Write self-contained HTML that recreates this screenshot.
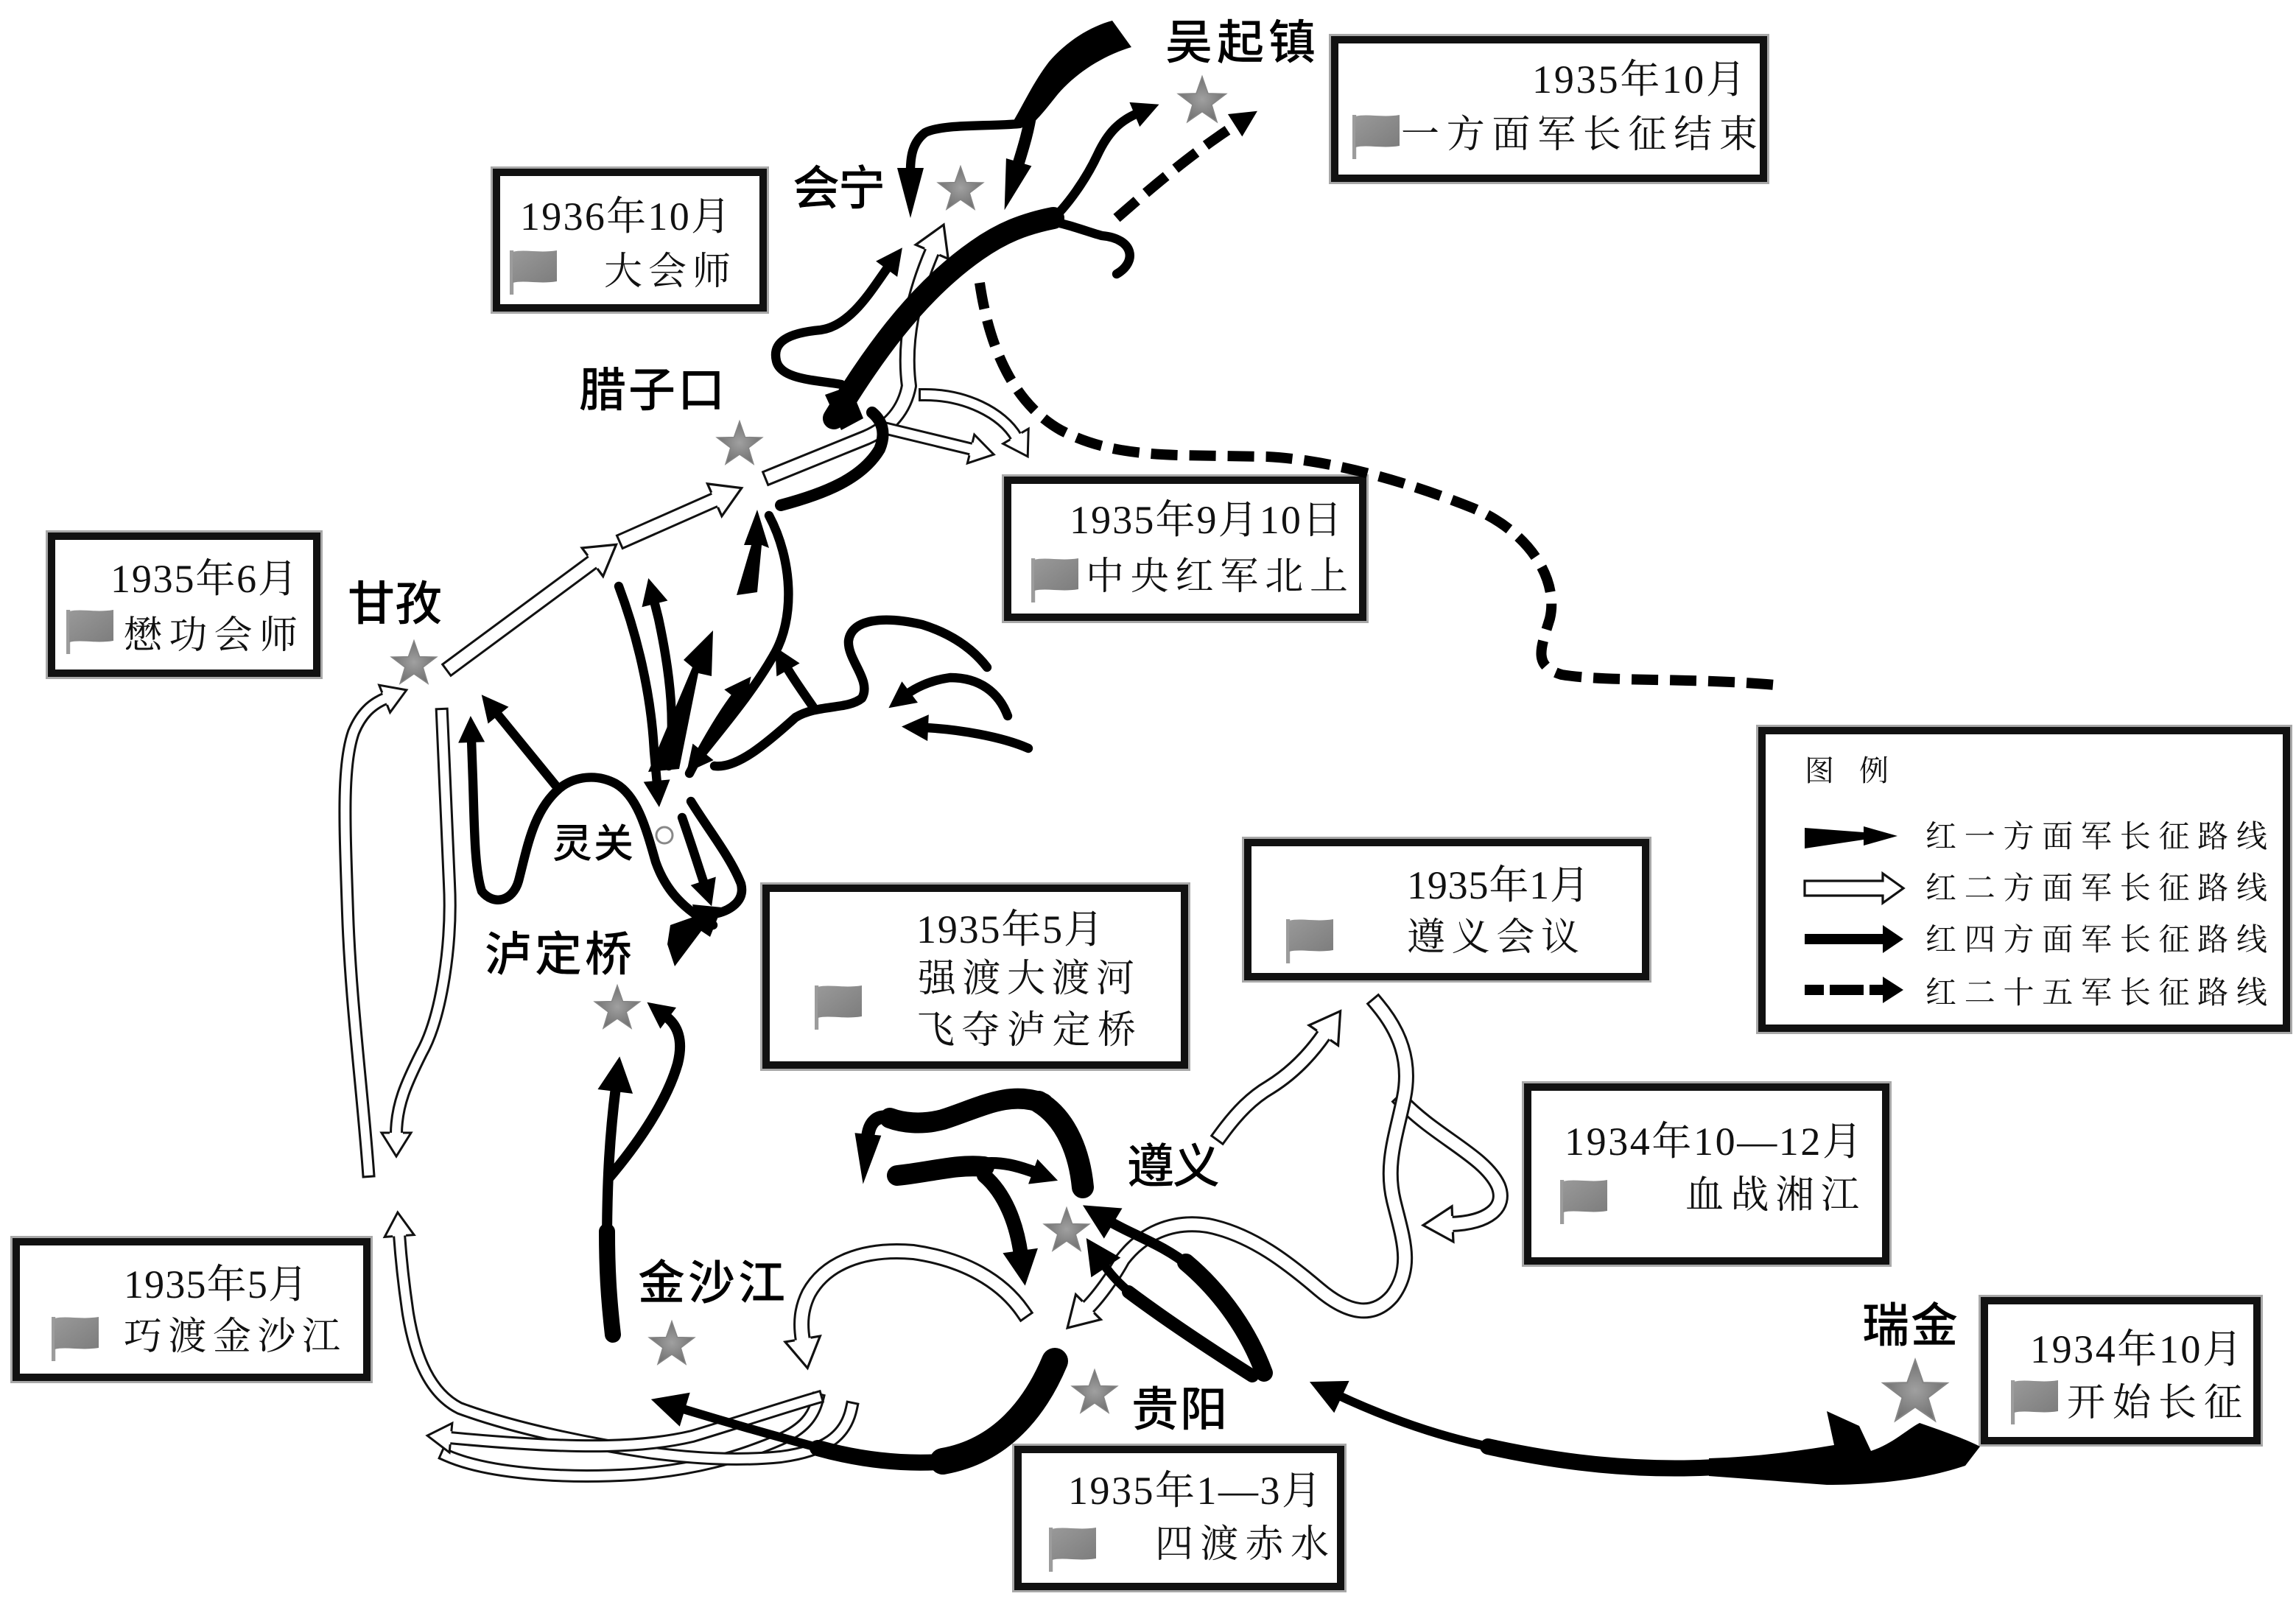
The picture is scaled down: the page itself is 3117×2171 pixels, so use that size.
<!DOCTYPE html>
<html>
<head>
<meta charset="utf-8">
<style>
html,body{margin:0;padding:0;background:#fff;}
svg{display:block;}
.bx{fill:#fff;stroke:#111;stroke-width:5}
.bxs{fill:none;stroke:#a8a8a8;stroke-width:8}
.tx{font-family:"Liberation Serif","Noto Serif CJK SC",serif;font-size:26px;fill:#111}
.num{font-size:27px;font-family:"Liberation Serif","Noto Serif CJK SC",serif}
.lg{font-family:"Liberation Serif","Noto Serif CJK SC",serif;font-size:21px;fill:#111}
.lb{font-family:"Liberation Sans","Noto Sans CJK SC",sans-serif;font-size:32px;font-weight:500;fill:#000}
.wo{fill:none;stroke:#111;stroke-width:11;stroke-linecap:square;stroke-linejoin:round}
.wi{fill:none;stroke:#fff;stroke-width:8;stroke-linecap:square;stroke-linejoin:round}
.wo2{fill:none;stroke:#111;stroke-width:9;stroke-linecap:square;stroke-linejoin:round}
.wi2{fill:none;stroke:#fff;stroke-width:6;stroke-linecap:square;stroke-linejoin:round}
.k{fill:none;stroke:#000;stroke-width:6.2;stroke-linecap:round;stroke-linejoin:round}
.t{fill:none;stroke:#000;stroke-linecap:round;stroke-linejoin:round}
.d{fill:none;stroke:#000;stroke-width:7;stroke-dasharray:18 8}
</style>
</head>
<body>
<svg xmlns="http://www.w3.org/2000/svg" width="3117" height="2171" viewBox="0 0 1558.5 1085.5" preserveAspectRatio="none">
<defs>
  <radialGradient id="sg">
    <stop offset="0" stop-color="#a0a0a0"/>
    <stop offset="1" stop-color="#727272"/>
  </radialGradient>
  <linearGradient id="fg" x1="0" y1="0" x2="1" y2="1">
    <stop offset="0" stop-color="#999"/>
    <stop offset="1" stop-color="#7d7d7d"/>
  </linearGradient>
  <path id="star" d="M0,-16 L3.76,-5.18 L15.22,-4.94 L6.08,1.98 L9.41,12.94 L0,6.4 L-9.41,12.94 L-6.08,1.98 L-15.22,-4.94 L-3.76,-5.18 Z" fill="url(#sg)" stroke="#858585" stroke-width="0.8"/>
  <g id="flag">
    <rect x="0" y="0" width="2.6" height="30" fill="#9c9c9c"/>
    <path d="M2,1 C10,-1 20,2 32,0 L32,21 C20,23 10,20 2,22 Z" fill="url(#fg)"/>
  </g>
  <marker id="mk" markerUnits="userSpaceOnUse" viewBox="0 -9 18 18" refX="2" refY="0" markerWidth="18" markerHeight="18" orient="auto" overflow="visible">
    <path d="M0,-9 L18,0 L0,9 Z" fill="#000"/>
  </marker>
  <marker id="mt" markerUnits="userSpaceOnUse" viewBox="0 -12 24 24" refX="3" refY="0" markerWidth="24" markerHeight="24" orient="auto" overflow="visible">
    <path d="M0,-12 L24,0 L0,12 Z" fill="#000"/>
  </marker>
  <marker id="mk2" markerUnits="userSpaceOnUse" viewBox="0 -9 34 18" refX="2" refY="0" markerWidth="34" markerHeight="18" orient="auto" overflow="visible">
    <path d="M0,-9 L34,0 L0,9 Z" fill="#000"/>
  </marker>
  <marker id="mw" markerUnits="userSpaceOnUse" viewBox="0 -12 20 24" refX="1" refY="0" markerWidth="20" markerHeight="24" orient="auto" overflow="visible">
    <path d="M0,-12 L20,0 L0,12 Z" fill="#fff"/>
    <path d="M0,-5.5 L0,-12 L20,0 L0,12 L0,5.5" fill="none" stroke="#111" stroke-width="1.6" stroke-linejoin="miter"/>
  </marker>
  <marker id="mw2" markerUnits="userSpaceOnUse" viewBox="0 -10 16 20" refX="1" refY="0" markerWidth="16" markerHeight="20" orient="auto" overflow="visible">
    <path d="M0,-10 L16,0 L0,10 Z" fill="#fff"/>
    <path d="M0,-4.5 L0,-10 L16,0 L0,10 L0,4.5" fill="none" stroke="#111" stroke-width="1.5" stroke-linejoin="miter"/>
  </marker>
</defs>

<!-- ================= BOXES ================= -->
<g>
  <rect class="bxs" x="906" y="27" width="291" height="94"/><rect class="bx" x="906" y="27" width="291" height="94"/>
  <rect class="bxs" x="337" y="117" width="181" height="92"/><rect class="bx" x="337" y="117" width="181" height="92"/>
  <rect class="bxs" x="35" y="364" width="180" height="93"/><rect class="bx" x="35" y="364" width="180" height="93"/>
  <rect class="bxs" x="684" y="326" width="241" height="93"/><rect class="bx" x="684" y="326" width="241" height="93"/>
  <rect class="bxs" x="520" y="603" width="284" height="120"/><rect class="bx" x="520" y="603" width="284" height="120"/>
  <rect class="bxs" x="847" y="572" width="270" height="91"/><rect class="bx" x="847" y="572" width="270" height="91"/>
  <rect class="bxs" x="1037" y="738" width="243" height="118"/><rect class="bx" x="1037" y="738" width="243" height="118"/>
  <rect class="bxs" x="1347" y="883" width="185" height="95"/><rect class="bx" x="1347" y="883" width="185" height="95"/>
  <rect class="bxs" x="691" y="984" width="219" height="93"/><rect class="bx" x="691" y="984" width="219" height="93"/>
  <rect class="bxs" x="11" y="843" width="238" height="92"/><rect class="bx" x="11" y="843" width="238" height="92"/>
  <rect class="bxs" x="1196" y="496" width="356" height="202"/><rect class="bx" x="1196" y="496" width="356" height="202"/>
</g>

<!-- box texts -->
<g class="tx">
  <text class="num" x="1040" y="63" textLength="145">1935年10月</text>
  <text x="951" y="100" textLength="242">一方面军长征结束</text>

  <text class="num" x="353" y="156" textLength="143">1936年10月</text>
  <text x="410" y="193" textLength="86">大会师</text>

  <text class="num" x="75" y="402" textLength="127">1935年6月</text>
  <text x="84" y="440" textLength="118">懋功会师</text>

  <text class="num" x="726" y="362" textLength="185">1935年9月10日</text>
  <text x="737" y="400" textLength="178">中央红军北上</text>

  <text class="num" x="622" y="640" textLength="127">1935年5月</text>
  <text x="623" y="673" textLength="147">强渡大渡河</text>
  <text x="622" y="708" textLength="149">飞夺泸定桥</text>

  <text class="num" x="955" y="610" textLength="124">1935年1月</text>
  <text x="955" y="645" textLength="117">遵义会议</text>

  <text class="num" x="1062" y="784" textLength="202">1934年10—12月</text>
  <text x="1144" y="820" textLength="118">血战湘江</text>

  <text class="num" x="1378" y="925" textLength="144">1934年10月</text>
  <text x="1403" y="961" textLength="119">开始长征</text>

  <text class="num" x="725" y="1021" textLength="172">1935年1—3月</text>
  <text x="784" y="1057" textLength="118">四渡赤水</text>

  <text class="num" x="84" y="881" textLength="125">1935年5月</text>
  <text x="84" y="916" textLength="147">巧渡金沙江</text>
</g>

<!-- flags -->
<use href="#flag" x="918" y="78"/>
<use href="#flag" x="346" y="170"/>
<use href="#flag" x="45" y="414"/>
<use href="#flag" x="700" y="379"/>
<use href="#flag" x="553" y="669"/>
<use href="#flag" x="873" y="624"/>
<use href="#flag" x="1059" y="801"/>
<use href="#flag" x="1365" y="937"/>
<use href="#flag" x="712" y="1037"/>
<use href="#flag" x="35" y="894"/>

<!-- legend -->
<g class="lg">
  <text x="1225" y="530" font-size="20">图</text>
  <text x="1262" y="530" font-size="20">例</text>
  <text x="1307" y="575" textLength="232">红一方面军长征路线</text>
  <text x="1307" y="610" textLength="232">红二方面军长征路线</text>
  <text x="1307" y="645" textLength="232">红四方面军长征路线</text>
  <text x="1307" y="681" textLength="232">红二十五军长征路线</text>
</g>
<path d="M1225,562 L1265,565 L1265,561 L1288,567.5 L1265,574 L1265,570 L1225,576 Z" fill="#000"/>
<path d="M1225,598 L1278,598 L1278,593 L1292,603 L1278,613 L1278,608 L1225,608 Z" fill="#fff" stroke="#111" stroke-width="1.6"/>
<path d="M1225,637.5 L1280,637.5" stroke="#000" stroke-width="7" fill="none"/>
<path d="M1278,628 L1292,637.5 L1278,647 Z" fill="#000"/>
<path d="M1225,672 L1238,672 M1242,672 L1265,672 M1269,672 L1280,672" stroke="#000" stroke-width="7" fill="none"/>
<path d="M1278,663 L1292,672 L1278,681 Z" fill="#000"/>

<!-- ================= WHITE ROUTES (红二) ================= -->
<path class="wo" d="M307,452 L403,381"/>
<path class="wi" d="M307,452 L403,381" marker-end="url(#mw)"/>
<path class="wo" d="M425,366 L486,339"/>
<path class="wi" d="M425,366 L486,339" marker-end="url(#mw)"/>
<path class="wo" d="M524,323 L588,297 C604,290 614,278 617,262 C613,232 620,200 633,170"/>
<path class="wi" d="M524,323 L588,297 C604,290 614,278 617,262 C613,232 620,200 633,170" marker-end="url(#mw)"/>
<path class="wo2" d="M628,268 C655,268 680,280 690,297"/>
<path class="wi2" d="M628,268 C655,268 680,280 690,297" marker-end="url(#mw2)"/>
<path class="wo2" d="M602,291 L660,305"/>
<path class="wi2" d="M602,291 L660,305" marker-end="url(#mw2)"/>
<path class="wo2" d="M250,795 C246,740 238,680 236,620 C234,560 232,520 240,497 C245,485 252,478 262,474"/>
<path class="wi2" d="M250,795 C246,740 238,680 236,620 C234,560 232,520 240,497 C245,485 252,478 262,474" marker-end="url(#mw2)"/>
<path class="wo2" d="M300,485 L305,600 C307,640 300,690 286,715 C276,735 269,750 269,770"/>
<path class="wi2" d="M300,485 L305,600 C307,640 300,690 286,715 C276,735 269,750 269,770" marker-end="url(#mw2)"/>
<path class="wo2" d="M303,988 C330,1000 380,1004 430,1001 C470,998 500,990 530,977 C545,970 552,962 555,950"/>
<path class="wi2" d="M303,988 C330,1000 380,1004 430,1001 C470,998 500,990 530,977 C545,970 552,962 555,950"/>
<path class="wo2" d="M578,956 C574,975 560,985 530,989 C500,992 470,990 440,986 C400,980 350,970 312,956 C292,946 282,922 277,892 C274,872 272,852 271,838"/>
<path class="wi2" d="M578,956 C574,975 560,985 530,989 C500,992 470,990 440,986 C400,980 350,970 312,956 C292,946 282,922 277,892 C274,872 272,852 271,838" marker-end="url(#mw2)"/>
<path class="wo2" d="M554,949 C530,956 500,966 470,975 C440,982 400,985 305,976"/>
<path class="wi2" d="M554,949 C530,956 500,966 470,975 C440,982 400,985 305,976" marker-end="url(#mw2)"/>
<path class="wo" d="M694,890 C680,870 655,855 620,850 C585,847 560,858 549,878 C544,888 543,898 545,910"/>
<path class="wi" d="M694,890 C680,870 655,855 620,850 C585,847 560,858 549,878 C544,888 543,898 545,910" marker-end="url(#mw)"/>
<path class="wo" d="M829,770 C840,755 850,745 862,738 C878,728 890,715 899,702"/>
<path class="wi" d="M829,770 C840,755 850,745 862,738 C878,728 890,715 899,702" marker-end="url(#mw)"/>
<path class="wo" d="M952,748 C975,772 1008,785 1017,805 C1023,820 1010,830 985,831"/>
<path class="wi" d="M952,748 C975,772 1008,785 1017,805 C1023,820 1010,830 985,831" marker-end="url(#mw)"/>
<path class="wo" d="M935,682 C950,700 958,720 953,745 C948,770 940,790 946,815 C952,840 960,860 945,880 C932,895 915,892 895,875 C875,858 850,838 820,832 C795,828 775,838 762,855 C756,866 746,880 738,888"/>
<path class="wi" d="M935,682 C950,700 958,720 953,745 C948,770 940,790 946,815 C952,840 960,860 945,880 C932,895 915,892 895,875 C875,858 850,838 820,832 C795,828 775,838 762,855 C756,866 746,880 738,888" marker-end="url(#mw)"/>

<!-- ================= DASHED (红二十五) ================= -->
<path class="d" d="M665,192 C672,240 690,275 720,292 C745,305 770,308 800,309 L860,310 C900,312 950,325 1000,345 C1040,362 1058,395 1052,420 C1046,440 1040,452 1060,458 C1090,463 1150,460 1205,465"/>
<path class="d" d="M758,148 C790,120 815,100 840,84" marker-end="url(#mk)"/>

<!-- ================= BLACK ROUTES ================= -->
<path d="M755,14 L768,32 C748,38 730,50 718,64 C710,74 704,82 696,88 L688,82 C695,70 702,55 712,42 C724,28 740,18 755,14 Z" fill="#000"/>
<path class="k" d="M692,84 C670,86 640,84 628,90 C620,96 618,105 618,116" marker-end="url(#mk2)"/>
<path class="t" stroke-width="8" d="M700,76 C698,90 694,102 691,112" marker-end="url(#mk2)"/>
<path class="k" d="M711,152 C725,140 738,120 745,105 C752,90 760,82 772,77" marker-end="url(#mk)"/>
<path class="k" d="M712,150 C725,152 740,158 748,160 C770,162 772,178 758,186"/>
<path class="k" d="M571,261 C555,258 530,258 527,245 C524,232 535,226 557,224 C578,221 592,196 603,181" marker-end="url(#mk)"/>
<path class="t" stroke-width="15" stroke-linecap="butt" d="M566,284 C590,245 620,200 663,170 C680,158 695,152 715,148"/>
<path d="M560,268 L577,262 L586,284 L571,292 Z" fill="#000"/>
<path class="t" stroke-width="8" d="M530,343 C560,335 585,325 597,305 C602,293 598,285 592,280"/>

<!-- 灵关 corridor -->
<path class="k" d="M522,350 C538,380 540,420 525,445 C512,468 492,492 476,512" marker-end="url(#mk)"/>
<path d="M500,404 L514,402 L517,370 L522,372 L514,346 L505,370 L510,370 Z" fill="#000"/>
<path class="k" d="M420,398 C432,430 442,470 444,510 L446,532" marker-end="url(#mk)"/>
<path class="k" d="M454,520 C458,493 456,462 447,420 L444,408" marker-end="url(#mk)"/>
<path d="M440,524 L461,522 L474,457 L483,459 L484,428 L464,448 L470,453 Z" fill="#000"/>
<path class="k" d="M468,525 C480,502 490,485 500,472" marker-end="url(#mk)"/>
<path class="k" d="M485,520 C500,522 520,505 540,487 C555,478 575,482 585,474 C592,462 575,448 576,435 C578,420 600,418 626,424 C645,430 660,440 670,453"/>
<path class="k" d="M552,480 C545,470 538,460 534,453" marker-end="url(#mk)"/>
<path class="k" d="M684,486 C678,470 665,460 645,460 C630,462 620,468 616,471" marker-end="url(#mk)"/>
<path class="k" d="M698,508 C680,500 650,495 628,494" marker-end="url(#mk)"/>
<path class="k" d="M469,544 C480,562 496,582 503,600 C506,612 495,618 487,620"/>
<path class="k" d="M463,555 C470,575 474,588 478,600" marker-end="url(#mk)"/>

<!-- 甘孜 black -->
<path class="k" d="M377,533 L337,484" marker-end="url(#mk)"/>
<path class="k" d="M484,628 C465,618 452,605 445,585 C438,560 432,540 418,532 C405,525 390,527 380,535 C362,550 358,575 352,598 C348,612 335,615 327,605 C322,590 322,560 321,530 L320,502" marker-end="url(#mk)"/>

<!-- 泸定桥 -->
<path d="M455,628 L472,622 L470,614 L490,616 L482,636 L476,632 L458,656 L453,641 Z" fill="#000"/>
<path class="t" stroke-width="11" stroke-linecap="butt" d="M416,906 C413,880 412,860 412,836"/>
<path class="t" stroke-width="7" d="M412,846 C412,800 414,770 418,738" marker-end="url(#mt)"/>
<path class="t" stroke-width="7" d="M413,800 C430,780 452,750 460,722 C464,706 460,696 452,690" marker-end="url(#mk)"/>

<!-- 贵阳 -> 金沙江 -->
<path class="t" stroke-width="18" stroke-linecap="butt" d="M716,924 C703,955 680,985 640,992"/>
<path class="t" stroke-width="11" d="M645,992 C610,995 580,990 555,983"/>
<path class="t" stroke-width="6" d="M560,984 C530,976 495,966 462,956" marker-end="url(#mt)"/>

<!-- to 遵义 from lower right -->
<path class="t" stroke-width="12" stroke-linecap="butt" d="M858,932 C848,905 830,878 805,857"/>
<path class="t" stroke-width="7" d="M808,860 C790,845 768,838 753,829" marker-end="url(#mt)"/>
<path class="t" stroke-width="9" stroke-linecap="butt" d="M850,934 C820,915 790,895 766,877"/>
<path class="t" stroke-width="6" d="M770,880 C760,872 753,864 749,858" marker-end="url(#mt)"/>

<!-- 遵义 hump -->
<path class="t" stroke-width="15" stroke-linecap="butt" d="M735,806 C733,785 725,760 705,748"/>
<path class="t" stroke-width="14" d="M708,749 C685,740 665,752 640,760 C625,764 612,762 604,759"/>
<path class="t" stroke-width="9" d="M606,759 C595,756 590,762 589,772" marker-end="url(#mk2)"/>
<path class="t" stroke-width="14" d="M609,798 C630,796 650,790 668,792"/>
<path class="t" stroke-width="8" d="M665,790 C680,788 692,792 703,796" marker-end="url(#mk)"/>
<path class="t" stroke-width="10" d="M668,798 C682,810 690,830 693,852" marker-end="url(#mt)"/>

<!-- 瑞金 -> 贵阳 -->
<path d="M1240,958 L1262,968 L1270,985 C1285,980 1295,970 1303,966 C1320,972 1332,976 1344,982 L1334,995 C1310,1003 1280,1008 1240,1008 L1160,1002 L1160,990 C1190,989 1215,986 1245,981 Z" fill="#000"/>
<path class="t" stroke-width="11" stroke-linecap="butt" d="M1165,996 C1110,999 1060,993 1010,982"/>
<path class="t" stroke-width="6" d="M1015,983 C975,975 940,962 908,947" marker-end="url(#mt)"/>

<!-- ================= STARS ================= -->
<use href="#star" transform="translate(816,69) scale(1.06)"/>
<use href="#star" transform="translate(652,129)"/>
<use href="#star" transform="translate(502,302)"/>
<use href="#star" transform="translate(281,451)"/>
<use href="#star" transform="translate(419,685)"/>
<use href="#star" transform="translate(456,913)"/>
<use href="#star" transform="translate(724,836)"/>
<use href="#star" transform="translate(743,946)"/>
<use href="#star" transform="translate(1300,946) scale(1.42)"/>
<circle cx="451" cy="567" r="5.5" fill="#fff" stroke="#888" stroke-width="1.5"/>

<!-- ================= PLACE LABELS ================= -->
<g class="lb">
  <text x="791" y="40" textLength="102">吴起镇</text>
  <text x="538" y="139" textLength="63">会宁</text>
  <text x="393" y="276" textLength="99">腊子口</text>
  <text x="236" y="421" textLength="64">甘孜</text>
  <text x="375" y="582" textLength="55" font-size="27">灵关</text>
  <text x="329" y="659" textLength="100">泸定桥</text>
  <text x="433" y="882" textLength="100">金沙江</text>
  <text x="765" y="803" textLength="63">遵义</text>
  <text x="768" y="968" textLength="65">贵阳</text>
  <text x="1264" y="911" textLength="65">瑞金</text>
</g>
</svg>
</body>
</html>
